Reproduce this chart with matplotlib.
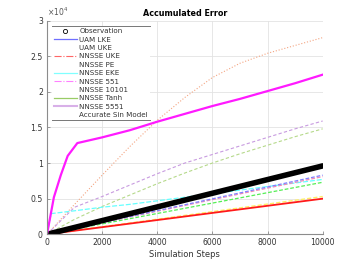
import matplotlib
matplotlib.use("Agg")
import matplotlib.pyplot as plt
from matplotlib.lines import Line2D
import numpy as np

# ---- data (values in raw units) ----
steps = [0, 1000, 2000, 3000, 4000, 5000, 6000, 7000, 8000, 9000, 10000]

obs = [0, 960, 1920, 2880, 3840, 4800, 5760, 6720, 7680, 8640, 9600]
uam_lke = [0, 830, 1660, 2490, 3320, 4150, 4980, 5810, 6640, 7470, 8300]
uam_pink = [0, 810, 1620, 2430, 3240, 4050, 4860, 5670, 6480, 7290, 8100]
green_low = [0, 730, 1460, 2190, 2920, 3650, 4380, 5110, 5840, 6570, 7300]
yellow = [0, 530, 1060, 1590, 2120, 2650, 3180, 3710, 4240, 4770, 5300]
red = [0, 500, 1000, 1500, 2000, 2500, 3000, 3500, 4000, 4500, 5000]

salmon = [0, 4200, 8300, 12300, 16000, 19200, 22000, 24000, 25400, 26500, 27600]
purple = [0, 3800, 5300, 6900, 8500, 10000, 11200, 12400, 13600, 14800, 15900]
green_hi = [0, 2100, 3900, 5500, 7100, 8600, 10000, 11300, 12500, 13700, 14800]

mag_steps = [0, 250, 500, 750, 1100, 2000, 3000, 4000, 5000, 6000, 7000, 8000, 9000, 10000]
magenta = [0, 5200, 8300, 11000, 12800, 13600, 14600, 15800, 16900, 18000, 19000, 20100, 21200, 22400]

cyan_steps = [0, 150, 1000, 2000, 3000, 4000, 5000, 6000, 7000, 8000, 9000, 10000]
cyan = [0, 2900, 3300, 3800, 4200, 4700, 5200, 5700, 6200, 6700, 7200, 7700]

legend_labels = ["Observation", "UAM LKE", "UAM UKE", "NNSSE UKE", "NNSSE PE",
                 "NNSSE EKE", "NNSSE 551", "NNSSE 10101", "NNSSE Tanh",
                 "NNSSE 5551", "Accurate Sin Model"]
yticks = [0, 5000, 10000, 15000, 20000, 25000, 30000]
xticks = [0, 2000, 4000, 6000, 8000, 10000]

W, H = 357, 263
fig = plt.figure(figsize=(W / 100, H / 100), dpi=100)
L, R, T, B = 47, 322.7, 20.5, 234.3
ax = fig.add_axes([L / W, 1 - B / H, (R - L) / W, (B - T) / H])

ax.plot(steps, salmon, color="#f4a582", lw=0.8, ls=":")
ax.plot(steps, purple, color="#c89be0", lw=0.8, ls="--", dashes=(3, 2))
ax.plot(steps, green_hi, color="#b5d98a", lw=0.8, ls="--", dashes=(3, 2))
ax.plot(cyan_steps, cyan, color="#66ffff", lw=0.9, ls="--", dashes=(4, 1.5))
ax.plot(steps, yellow, color="#ffee66", lw=1.0, ls="--", dashes=(3, 1.5))
ax.plot(steps, red, color="#ff1a1a", lw=1.3)
ax.plot(steps, green_low, color="#55ee55", lw=0.9, ls="--", dashes=(3, 1.5))
ax.plot(steps, uam_pink, color="#f08cb4", lw=0.9, ls="--", dashes=(3, 1.5))
ax.plot(steps, uam_lke, color="#8080ff", lw=0.9, ls="--", dashes=(3, 1.5))
ax.plot(steps, obs, color="black", lw=4.0, solid_capstyle="round")
ax.plot(mag_steps, magenta, color="#ff1aff", lw=1.6)

ax.set_xlim(0, 10000)
ax.set_ylim(0, 30000)
ax.set_xticks(xticks)
ax.set_yticks(yticks)
ax.set_yticklabels([f"{v / 1e4:g}" for v in yticks])
ax.grid(True, color="#e3e3e3", lw=0.6)
ax.set_axisbelow(True)
for s in ["top", "right"]:
    ax.spines[s].set_visible(False)
for s in ["left", "bottom"]:
    ax.spines[s].set_color("#8c8c8c")
    ax.spines[s].set_linewidth(0.8)
ax.tick_params(direction="in", length=2.5, width=0.6, color="#8c8c8c",
               labelsize=5.6, labelcolor="#333333", pad=3)
ax.set_xlabel("Simulation Steps", fontsize=6, color="#333333", labelpad=2)
ax.set_title("Accumulated Error", fontsize=5.8, fontweight="bold", pad=3)
ax.text(0.0, 1.012, r"$\times10^{4}$", transform=ax.transAxes, fontsize=5.5,
        color="#555555", ha="left", va="bottom")

handles = [
    Line2D([], [], ls="none", marker="o", mfc="none", mec="black", ms=3, mew=0.6),
    Line2D([], [], color="#6f6fff", lw=0.9),
    Line2D([], [], color="none"),
    Line2D([], [], color="#ff6666", lw=0.8, ls="-."),
    Line2D([], [], color="none"),
    Line2D([], [], color="#80ffff", lw=0.9),
    Line2D([], [], color="#ff80ff", lw=0.8, ls="-."),
    Line2D([], [], color="none"),
    Line2D([], [], color="#99cc66", lw=0.9),
    Line2D([], [], color="#d8b0e8", lw=1.5),
    Line2D([], [], color="none"),
]
leg = ax.legend(handles, legend_labels, loc="upper left",
                bbox_to_anchor=((52 - L) / (R - L), (B - 26) / (B - T)),
                fontsize=5.1, frameon=True, fancybox=False, framealpha=1,
                facecolor="white", edgecolor="none", borderpad=0.3,
                labelspacing=0.34, handlelength=3.2, handletextpad=0.35,
                borderaxespad=0)
for t in leg.get_texts():
    t.set_color("#333333")

fig.canvas.draw()
bb = leg.get_window_extent()
for yy in (bb.y0, bb.y1):
    fig.add_artist(Line2D([bb.x0 / W, bb.x1 / W], [yy / H, yy / H],
                          transform=fig.transFigure, color="#777777", lw=0.7))

fig.savefig("out.png", dpi=100)
